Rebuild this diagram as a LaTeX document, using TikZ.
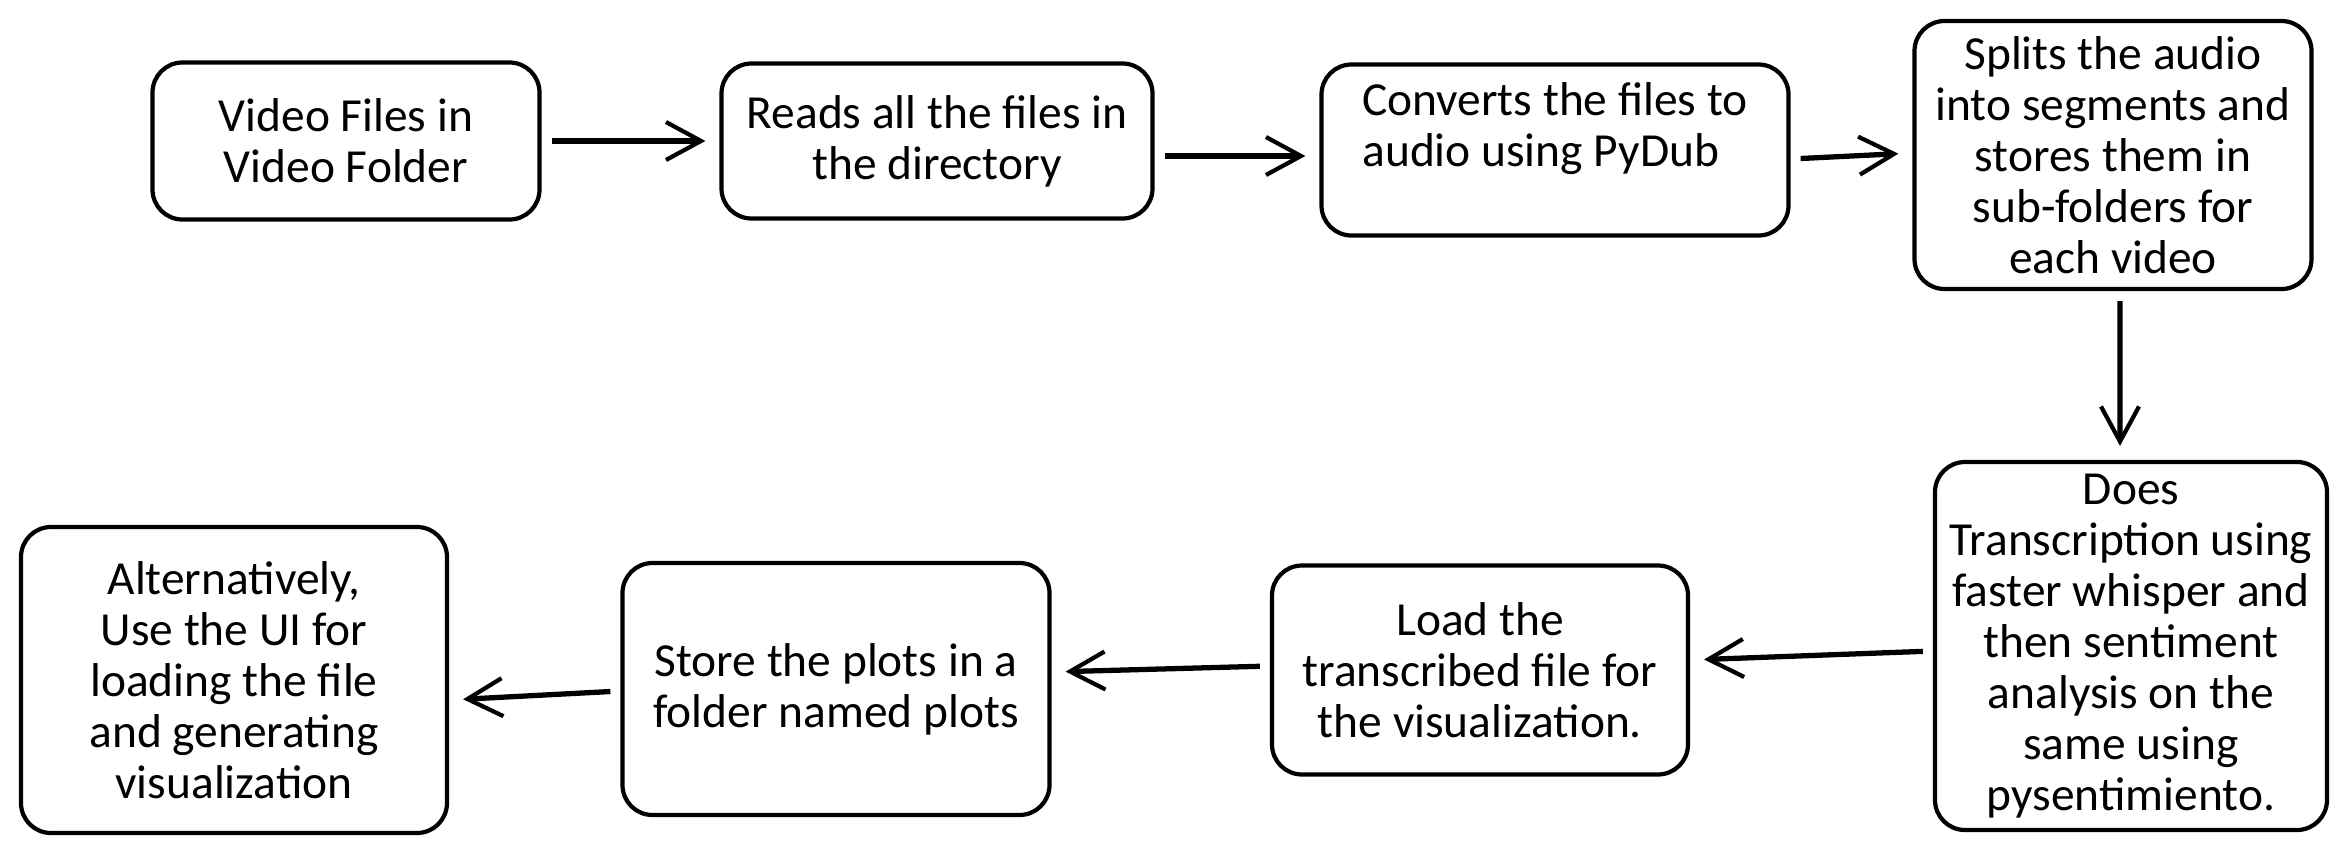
\documentclass[tikz,border=0pt]{standalone}
\usepackage{fontspec}
\setmainfont{Carlito}
\usetikzlibrary{positioning,arrows.meta}

\begin{document}
\begin{tikzpicture}[
  box/.style={draw, line width=1.2pt, rounded corners=0.3cm, align=center, inner sep=2pt, font=\fontsize{13.5}{14.5}\selectfont},
  arrow/.style={-{Straight Barb[length=3.5mm, width=3.8mm, line width=1.2pt]}, line width=1.5pt, shorten <=1mm, shorten >=1.4mm}
]
\useasboundingbox (0,0) rectangle (23.46,8.56);

\node[box, minimum width=3.87cm, minimum height=1.57cm] (video) at (3.46,7.15) {Video Files in\\Video Folder};
\node[box, minimum width=4.31cm, minimum height=1.55cm] (reads) at (9.37,7.15) {Reads all the files in\\the directory};
\node[box, minimum width=4.67cm, minimum height=1.71cm, align=left] (convert) at (15.55,7.06) {Converts the files to\\audio using PyDub\\\mbox{}};
\node[box, minimum width=3.97cm, minimum height=2.68cm] (split) at (21.13,7.01) {Splits the audio\\into segments and\\stores them in\\sub-folders for\\each video};

\node[box, minimum width=3.92cm, minimum height=3.68cm] (trans) at (21.31,2.10) {Does\\Transcription using\\faster whisper and\\then sentiment\\analysis on the\\same using\\pysentimiento.};
\node[box, minimum width=4.16cm, minimum height=2.09cm] (load) at (14.80,1.86) {Load the\\transcribed file for\\the visualization.};
\node[box, minimum width=4.27cm, minimum height=2.52cm] (store) at (8.36,1.67) {Store the plots in a\\folder named plots};
\node[box, minimum width=4.26cm, minimum height=3.06cm] (alt) at (2.34,1.76) {Alternatively,\\Use the UI for\\loading the file\\and generating\\visualization};

\draw[arrow] (video) -- (reads);
\draw[arrow] ([yshift=-0.15cm]reads.east) -- ([yshift=-0.06cm]convert.west);
\draw[arrow] ([yshift=-0.09cm]convert.east) -- ([yshift=0.02cm]split.west);
\draw[arrow] ([xshift=0.07cm]split.south) -- ([xshift=-0.11cm]trans.north);
\draw[arrow] ([yshift=-0.05cm]trans.west) -- ([yshift=0.10cm]load.east);
\draw[arrow] ([yshift=0.04cm]load.west) -- ([yshift=0.17cm]store.east);
\draw[arrow] ([yshift=-0.02cm]store.west) -- ([yshift=-0.20cm]alt.east);
\end{tikzpicture}
\end{document}
